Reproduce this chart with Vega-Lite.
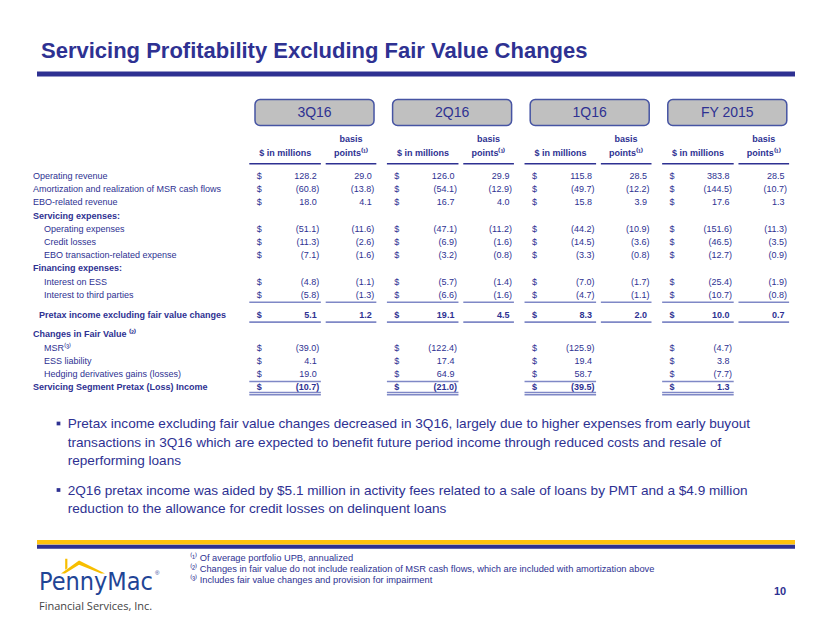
{
  "$schema": "https://vega.github.io/schema/vega-lite/v6.json",
  "width": 830,
  "height": 623,
  "padding": 0,
  "autosize": {"type": "fit", "contains": "padding"},
  "background": "white",
  "config": {"view": {"stroke": null}, "font": "Liberation Sans"},
  "datasets": {
    "periods": [{"period": "3Q16"}, {"period": "2Q16"}, {"period": "1Q16"}, {"period": "FY 2015"}],
    "lines": [
      {"line": "Operating revenue", "kind": "item"},
      {"line": "Amortization and realization of MSR cash flows", "kind": "item"},
      {"line": "EBO-related revenue", "kind": "item"},
      {"line": "Servicing expenses:", "kind": "head"},
      {"line": "Operating expenses", "kind": "sub"},
      {"line": "Credit losses", "kind": "sub"},
      {"line": "EBO transaction-related expense", "kind": "sub"},
      {"line": "Financing expenses:", "kind": "head"},
      {"line": "Interest on ESS", "kind": "sub"},
      {"line": "Interest to third parties", "kind": "sub"},
      {"line": "Pretax income excluding fair value changes", "kind": "total"},
      {"line": "Changes in Fair Value ⁽²⁾", "kind": "head"},
      {"line": "MSR⁽³⁾", "kind": "sub"},
      {"line": "ESS liability", "kind": "sub"},
      {"line": "Hedging derivatives gains (losses)", "kind": "sub"},
      {"line": "Servicing Segment Pretax (Loss) Income", "kind": "grand"}
    ],
    "cells": [
      {"line": "Operating revenue", "period": "3Q16", "usd": 128.2, "bp": 29.0},
      {"line": "Operating revenue", "period": "2Q16", "usd": 126.0, "bp": 29.9},
      {"line": "Operating revenue", "period": "1Q16", "usd": 115.8, "bp": 28.5},
      {"line": "Operating revenue", "period": "FY 2015", "usd": 383.8, "bp": 28.5},
      {"line": "Amortization and realization of MSR cash flows", "period": "3Q16", "usd": -60.8, "bp": -13.8},
      {"line": "Amortization and realization of MSR cash flows", "period": "2Q16", "usd": -54.1, "bp": -12.9},
      {"line": "Amortization and realization of MSR cash flows", "period": "1Q16", "usd": -49.7, "bp": -12.2},
      {"line": "Amortization and realization of MSR cash flows", "period": "FY 2015", "usd": -144.5, "bp": -10.7},
      {"line": "EBO-related revenue", "period": "3Q16", "usd": 18.0, "bp": 4.1},
      {"line": "EBO-related revenue", "period": "2Q16", "usd": 16.7, "bp": 4.0},
      {"line": "EBO-related revenue", "period": "1Q16", "usd": 15.8, "bp": 3.9},
      {"line": "EBO-related revenue", "period": "FY 2015", "usd": 17.6, "bp": 1.3},
      {"line": "Operating expenses", "period": "3Q16", "usd": -51.1, "bp": -11.6},
      {"line": "Operating expenses", "period": "2Q16", "usd": -47.1, "bp": -11.2},
      {"line": "Operating expenses", "period": "1Q16", "usd": -44.2, "bp": -10.9},
      {"line": "Operating expenses", "period": "FY 2015", "usd": -151.6, "bp": -11.3},
      {"line": "Credit losses", "period": "3Q16", "usd": -11.3, "bp": -2.6},
      {"line": "Credit losses", "period": "2Q16", "usd": -6.9, "bp": -1.6},
      {"line": "Credit losses", "period": "1Q16", "usd": -14.5, "bp": -3.6},
      {"line": "Credit losses", "period": "FY 2015", "usd": -46.5, "bp": -3.5},
      {"line": "EBO transaction-related expense", "period": "3Q16", "usd": -7.1, "bp": -1.6},
      {"line": "EBO transaction-related expense", "period": "2Q16", "usd": -3.2, "bp": -0.8},
      {"line": "EBO transaction-related expense", "period": "1Q16", "usd": -3.3, "bp": -0.8},
      {"line": "EBO transaction-related expense", "period": "FY 2015", "usd": -12.7, "bp": -0.9},
      {"line": "Interest on ESS", "period": "3Q16", "usd": -4.8, "bp": -1.1},
      {"line": "Interest on ESS", "period": "2Q16", "usd": -5.7, "bp": -1.4},
      {"line": "Interest on ESS", "period": "1Q16", "usd": -7.0, "bp": -1.7},
      {"line": "Interest on ESS", "period": "FY 2015", "usd": -25.4, "bp": -1.9},
      {"line": "Interest to third parties", "period": "3Q16", "usd": -5.8, "bp": -1.3},
      {"line": "Interest to third parties", "period": "2Q16", "usd": -6.6, "bp": -1.6},
      {"line": "Interest to third parties", "period": "1Q16", "usd": -4.7, "bp": -1.1},
      {"line": "Interest to third parties", "period": "FY 2015", "usd": -10.7, "bp": -0.8},
      {"line": "Pretax income excluding fair value changes", "period": "3Q16", "usd": 5.1, "bp": 1.2},
      {"line": "Pretax income excluding fair value changes", "period": "2Q16", "usd": 19.1, "bp": 4.5},
      {"line": "Pretax income excluding fair value changes", "period": "1Q16", "usd": 8.3, "bp": 2.0},
      {"line": "Pretax income excluding fair value changes", "period": "FY 2015", "usd": 10.0, "bp": 0.7},
      {"line": "MSR⁽³⁾", "period": "3Q16", "usd": -39.0},
      {"line": "MSR⁽³⁾", "period": "2Q16", "usd": -122.4},
      {"line": "MSR⁽³⁾", "period": "1Q16", "usd": -125.9},
      {"line": "MSR⁽³⁾", "period": "FY 2015", "usd": -4.7},
      {"line": "ESS liability", "period": "3Q16", "usd": 4.1},
      {"line": "ESS liability", "period": "2Q16", "usd": 17.4},
      {"line": "ESS liability", "period": "1Q16", "usd": 19.4},
      {"line": "ESS liability", "period": "FY 2015", "usd": 3.8},
      {"line": "Hedging derivatives gains (losses)", "period": "3Q16", "usd": 19.0},
      {"line": "Hedging derivatives gains (losses)", "period": "2Q16", "usd": 64.9},
      {"line": "Hedging derivatives gains (losses)", "period": "1Q16", "usd": 58.7},
      {"line": "Hedging derivatives gains (losses)", "period": "FY 2015", "usd": -7.7},
      {"line": "Servicing Segment Pretax (Loss) Income", "period": "3Q16", "usd": -10.7},
      {"line": "Servicing Segment Pretax (Loss) Income", "period": "2Q16", "usd": -21.0},
      {"line": "Servicing Segment Pretax (Loss) Income", "period": "1Q16", "usd": -39.5},
      {"line": "Servicing Segment Pretax (Loss) Income", "period": "FY 2015", "usd": 1.3}
    ],
    "rules": [
      {"line": "header", "col": "usd", "period": "3Q16"},
      {"line": "header", "col": "usd", "period": "2Q16"},
      {"line": "header", "col": "usd", "period": "1Q16"},
      {"line": "header", "col": "usd", "period": "FY 2015"},
      {"line": "header", "col": "bp", "period": "3Q16"},
      {"line": "header", "col": "bp", "period": "2Q16"},
      {"line": "header", "col": "bp", "period": "1Q16"},
      {"line": "header", "col": "bp", "period": "FY 2015"},
      {"line": "Interest to third parties", "col": "usd", "period": "3Q16"},
      {"line": "Interest to third parties", "col": "usd", "period": "2Q16"},
      {"line": "Interest to third parties", "col": "usd", "period": "1Q16"},
      {"line": "Interest to third parties", "col": "usd", "period": "FY 2015"},
      {"line": "Interest to third parties", "col": "bp", "period": "3Q16"},
      {"line": "Interest to third parties", "col": "bp", "period": "2Q16"},
      {"line": "Interest to third parties", "col": "bp", "period": "1Q16"},
      {"line": "Interest to third parties", "col": "bp", "period": "FY 2015"},
      {"line": "Pretax income excluding fair value changes", "col": "usd", "period": "3Q16"},
      {"line": "Pretax income excluding fair value changes", "col": "usd", "period": "2Q16"},
      {"line": "Pretax income excluding fair value changes", "col": "usd", "period": "1Q16"},
      {"line": "Pretax income excluding fair value changes", "col": "usd", "period": "FY 2015"},
      {"line": "Pretax income excluding fair value changes", "col": "bp", "period": "3Q16"},
      {"line": "Pretax income excluding fair value changes", "col": "bp", "period": "2Q16"},
      {"line": "Pretax income excluding fair value changes", "col": "bp", "period": "1Q16"},
      {"line": "Pretax income excluding fair value changes", "col": "bp", "period": "FY 2015"},
      {"line": "Hedging derivatives gains (losses)", "col": "usd", "period": "3Q16"},
      {"line": "Hedging derivatives gains (losses)", "col": "usd", "period": "2Q16"},
      {"line": "Hedging derivatives gains (losses)", "col": "usd", "period": "1Q16"},
      {"line": "Hedging derivatives gains (losses)", "col": "usd", "period": "FY 2015"},
      {"line": "Servicing Segment Pretax (Loss) Income", "col": "usd", "period": "3Q16"},
      {"line": "Servicing Segment Pretax (Loss) Income", "col": "usd", "period": "2Q16"},
      {"line": "Servicing Segment Pretax (Loss) Income", "col": "usd", "period": "1Q16"},
      {"line": "Servicing Segment Pretax (Loss) Income", "col": "usd", "period": "FY 2015"}
    ]
  },
  "resolve": {"scale": {"x": "independent", "y": "independent"}},
  "layer": [
    {
      "data": {"values": [{"t": "Servicing Profitability Excluding Fair Value Changes"}]},
      "mark": {"type": "text", "align": "left", "baseline": "middle", "fontSize": 22, "fontWeight": "bold", "color": "#2e3192"},
      "encoding": {"x": {"value": 41}, "y": {"value": 51}, "text": {"field": "t"}}
    },
    {
      "data": {"values": [{}]},
      "mark": {"type": "rule", "color": "#2e3192", "strokeWidth": 5},
      "encoding": {"x": {"value": 37}, "x2": {"value": 795}, "y": {"value": 74}}
    },
    {
      "resolve": {"scale": {"x": "independent"}},
      "encoding": {
        "y": {"field": "line", "type": "nominal", "axis": null,
          "scale": {"type": "point", "padding": 0, "range": [110, 387.2],
            "domain": ["pill","g1","g2","g3","g4","g5","g6","header","g7","g8",
              "Operating revenue","g9",
              "Amortization and realization of MSR cash flows","g10",
              "EBO-related revenue","g11",
              "Servicing expenses:","g12",
              "Operating expenses","g13",
              "Credit losses","g14",
              "EBO transaction-related expense","g15",
              "Financing expenses:","g16",
              "Interest on ESS","g17",
              "Interest to third parties","g18","g19",
              "Pretax income excluding fair value changes","g20","g21",
              "Changes in Fair Value ⁽²⁾","g22",
              "MSR⁽³⁾","g23",
              "ESS liability","g24",
              "Hedging derivatives gains (losses)","g25",
              "Servicing Segment Pretax (Loss) Income"]}}
      },
      "layer": [
        {
          "data": {"name": "periods"},
          "mark": {"type": "rect", "height": 26, "yOffset": 2.5, "fill": "#c0c0c0", "stroke": "#4654a3", "strokeWidth": 1.5, "cornerRadius": 5},
          "encoding": {
            "y": {"datum": "pill", "type": "nominal"},
            "x": {"field": "period", "type": "nominal", "axis": null,
              "scale": {"type": "band", "domain": ["3Q16", "2Q16", "1Q16", "FY 2015"], "range": [255, 786.8], "paddingInner": 0.135, "paddingOuter": 0}}
          }
        },
        {
          "data": {"name": "periods"},
          "mark": {"type": "text", "align": "center", "baseline": "middle", "dy": 2.5, "fontSize": 14, "color": "#2e3192"},
          "encoding": {
            "y": {"datum": "pill", "type": "nominal"},
            "x": {"field": "period", "type": "nominal", "axis": null,
              "scale": {"type": "band", "domain": ["3Q16", "2Q16", "1Q16", "FY 2015"], "range": [255, 786.8], "paddingInner": 0.135, "paddingOuter": 0}},
            "text": {"field": "period"}
          }
        },
        {
          "data": {"name": "periods"},
          "mark": {"type": "text", "align": "center", "baseline": "middle", "dx": 36, "dy": -3.5, "fontSize": 9, "fontWeight": "bold", "color": "#2e3192"},
          "encoding": {
            "y": {"datum": "header", "type": "nominal"},
            "x": {"field": "period", "type": "nominal", "axis": null, "bandPosition": 0,
              "scale": {"type": "band", "domain": ["3Q16", "2Q16", "1Q16", "FY 2015"], "range": [249.3, 799.7], "paddingInner": 0, "paddingOuter": 0}},
            "text": {"value": "$ in millions"}
          }
        },
        {
          "data": {"name": "periods"},
          "mark": {"type": "text", "align": "center", "baseline": "middle", "dx": 101.6, "dy": -17.2, "fontSize": 9, "fontWeight": "bold", "color": "#2e3192"},
          "encoding": {
            "y": {"datum": "header", "type": "nominal"},
            "x": {"field": "period", "type": "nominal", "axis": null, "bandPosition": 0,
              "scale": {"type": "band", "domain": ["3Q16", "2Q16", "1Q16", "FY 2015"], "range": [249.3, 799.7], "paddingInner": 0, "paddingOuter": 0}},
            "text": {"value": "basis"}
          }
        },
        {
          "data": {"name": "periods"},
          "mark": {"type": "text", "align": "center", "baseline": "middle", "dx": 101.6, "dy": -3.5, "fontSize": 9, "fontWeight": "bold", "color": "#2e3192"},
          "encoding": {
            "y": {"datum": "header", "type": "nominal"},
            "x": {"field": "period", "type": "nominal", "axis": null, "bandPosition": 0,
              "scale": {"type": "band", "domain": ["3Q16", "2Q16", "1Q16", "FY 2015"], "range": [249.3, 799.7], "paddingInner": 0, "paddingOuter": 0}},
            "text": {"value": "points⁽¹⁾"}
          }
        },
        {
          "data": {"name": "lines"},
          "mark": {"type": "text", "align": "left", "baseline": "middle", "fontSize": 9, "color": "#2e3192",
            "dx": {"expr": "datum.kind === 'sub' ? 11 : (datum.kind === 'total' ? 6 : 0)"},
            "fontWeight": {"expr": "datum.kind === 'head' || datum.kind === 'total' || datum.kind === 'grand' ? 'bold' : 'normal'"}},
          "encoding": {"x": {"value": 33}, "text": {"field": "line"}}
        },
        {
          "data": {"name": "cells"},
          "mark": {"type": "text", "align": "left", "baseline": "middle", "dx": 7.4, "fontSize": 9, "color": "#2e3192",
            "fontWeight": {"expr": "datum.line === 'Pretax income excluding fair value changes' || datum.line === 'Servicing Segment Pretax (Loss) Income' ? 'bold' : 'normal'"}},
          "encoding": {
            "x": {"field": "period", "type": "nominal", "axis": null, "bandPosition": 0,
              "scale": {"type": "band", "domain": ["3Q16", "2Q16", "1Q16", "FY 2015"], "range": [249.3, 799.7], "paddingInner": 0, "paddingOuter": 0}},
            "text": {"value": "$"}
          }
        },
        {
          "data": {"name": "cells"},
          "mark": {"type": "text", "align": "right", "baseline": "middle", "fontSize": 9, "color": "#2e3192",
            "dx": {"expr": "datum.usd < 0 ? 70 : 67.5"},
            "fontWeight": {"expr": "datum.line === 'Pretax income excluding fair value changes' || datum.line === 'Servicing Segment Pretax (Loss) Income' ? 'bold' : 'normal'"}},
          "encoding": {
            "x": {"field": "period", "type": "nominal", "axis": null, "bandPosition": 0,
              "scale": {"type": "band", "domain": ["3Q16", "2Q16", "1Q16", "FY 2015"], "range": [249.3, 799.7], "paddingInner": 0, "paddingOuter": 0}},
            "text": {"field": "usd", "type": "quantitative", "format": "(.1f"}
          }
        },
        {
          "data": {"name": "cells"},
          "transform": [{"filter": "isValid(datum.bp)"}],
          "mark": {"type": "text", "align": "right", "baseline": "middle", "fontSize": 9, "color": "#2e3192",
            "dx": {"expr": "datum.bp < 0 ? 125 : 122.5"},
            "fontWeight": {"expr": "datum.line === 'Pretax income excluding fair value changes' ? 'bold' : 'normal'"}},
          "encoding": {
            "x": {"field": "period", "type": "nominal", "axis": null, "bandPosition": 0,
              "scale": {"type": "band", "domain": ["3Q16", "2Q16", "1Q16", "FY 2015"], "range": [249.3, 799.7], "paddingInner": 0, "paddingOuter": 0}},
            "text": {"field": "bp", "type": "quantitative", "format": "(.1f"}
          }
        },
        {
          "data": {"name": "rules"},
          "transform": [{"filter": "datum.col === 'usd'"}],
          "mark": {"type": "rect", "height": 1.6, "yOffset": 7.5,
            "fill": {"expr": "datum.line === 'header' ? '#2e3192' : '#7f88c6'"}},
          "encoding": {
            "x": {"field": "period", "type": "nominal", "axis": null,
              "scale": {"type": "band", "domain": ["3Q16", "2Q16", "1Q16", "FY 2015"], "range": [249.3, 733.7], "paddingInner": 0.48, "paddingOuter": 0}}
          }
        },
        {
          "data": {"name": "rules"},
          "transform": [{"filter": "datum.col === 'bp'"}],
          "mark": {"type": "rect", "height": 1.6, "yOffset": 7.5,
            "fill": {"expr": "datum.line === 'header' ? '#2e3192' : '#7f88c6'"}},
          "encoding": {
            "x": {"field": "period", "type": "nominal", "axis": null,
              "scale": {"type": "band", "domain": ["3Q16", "2Q16", "1Q16", "FY 2015"], "range": [325.7, 789.1], "paddingInner": 0.632, "paddingOuter": 0}}
          }
        },
        {
          "data": {"name": "rules"},
          "transform": [{"filter": "datum.line === 'Servicing Segment Pretax (Loss) Income'"}],
          "mark": {"type": "rect", "height": 1.4, "yOffset": 5.3, "fill": "#7f88c6"},
          "encoding": {
            "x": {"field": "period", "type": "nominal", "axis": null,
              "scale": {"type": "band", "domain": ["3Q16", "2Q16", "1Q16", "FY 2015"], "range": [249.3, 733.7], "paddingInner": 0.48, "paddingOuter": 0}}
          }
        }
      ]
    },
    {
      "data": {"values": [{}]},
      "mark": {"type": "point", "shape": "square", "filled": true, "size": 14, "color": "#2e3192", "opacity": 1},
      "encoding": {"x": {"value": 58.5}, "y": {"value": 423.5}}
    },
    {
      "data": {"values": [{}]},
      "mark": {"type": "point", "shape": "square", "filled": true, "size": 14, "color": "#2e3192", "opacity": 1},
      "encoding": {"x": {"value": 58.5}, "y": {"value": 490}}
    },
    {
      "data": {"values": [{}]},
      "mark": {"type": "text", "align": "left", "baseline": "alphabetic", "fontSize": 13.6, "lineHeight": 18.3, "color": "#2e3192"},
      "encoding": {"x": {"value": 67.7}, "y": {"value": 428.3},
        "text": {"value": ["Pretax income excluding fair value changes decreased in 3Q16, largely due to higher expenses from early buyout", "transactions in 3Q16 which are expected to benefit future period income through reduced costs and resale of", "reperforming loans"]}}
    },
    {
      "data": {"values": [{}]},
      "mark": {"type": "text", "align": "left", "baseline": "alphabetic", "fontSize": 13.6, "lineHeight": 18.3, "color": "#2e3192"},
      "encoding": {"x": {"value": 67.7}, "y": {"value": 495},
        "text": {"value": ["2Q16 pretax income was aided by $5.1 million in activity fees related to a sale of loans by PMT and a $4.9 million", "reduction to the allowance for credit losses on delinquent loans"]}}
    },
    {
      "data": {"values": [{}]},
      "mark": {"type": "rule", "color": "#ffc20e", "strokeWidth": 4.5},
      "encoding": {"x": {"value": 37}, "x2": {"value": 795}, "y": {"value": 542.2}}
    },
    {
      "data": {"values": [{}]},
      "mark": {"type": "rule", "color": "#2e3192", "strokeWidth": 4},
      "encoding": {"x": {"value": 37}, "x2": {"value": 795}, "y": {"value": 546.8}}
    },
    {
      "data": {"values": [{}]},
      "mark": {"type": "text", "align": "left", "baseline": "middle", "fontSize": 9.3, "lineHeight": 11.3, "color": "#2e3192"},
      "encoding": {"x": {"value": 190}, "y": {"value": 557.7},
        "text": {"value": ["⁽¹⁾ Of average portfolio UPB, annualized", "⁽²⁾ Changes in fair value do not include realization of MSR cash flows, which are included with amortization above", "⁽³⁾ Includes fair value changes and provision for impairment"]}}
    },
    {
      "data": {"values": [{}]},
      "mark": {"type": "text", "align": "center", "baseline": "middle", "fontSize": 11, "fontWeight": "bold", "color": "#2e3192"},
      "encoding": {"x": {"value": 780}, "y": {"value": 591.5}, "text": {"value": "10"}}
    },
    {
      "data": {"values": [{}]},
      "mark": {"type": "point", "filled": true, "color": "#f7be00", "opacity": 1, "size": 1936,
        "shape": "M-1,0.29L-0.18,-0.29L1,0.29L0.82,0.29L-0.18,-0.1L-0.82,0.29Z M-0.81,-0.38L-0.71,-0.38L-0.71,0.06L-0.81,0.13Z"},
      "encoding": {"x": {"value": 83}, "y": {"value": 567}}
    },
    {
      "data": {"values": [{}]},
      "mark": {"type": "text", "align": "left", "baseline": "alphabetic", "font": "DejaVu Sans Condensed", "fontSize": 25, "color": "#1f4596"},
      "encoding": {"x": {"value": 39}, "y": {"value": 590}, "text": {"value": "PennyMac"}}
    },
    {
      "data": {"values": [{}]},
      "mark": {"type": "text", "align": "left", "baseline": "middle", "fontSize": 6, "color": "#1f4596"},
      "encoding": {"x": {"value": 155}, "y": {"value": 573}, "text": {"value": "®"}}
    },
    {
      "data": {"values": [{}]},
      "mark": {"type": "text", "align": "left", "baseline": "alphabetic", "font": "Open Sans", "fontSize": 11, "color": "#444444"},
      "encoding": {"x": {"value": 39}, "y": {"value": 609.5}, "text": {"value": "Financial Services, Inc."}}
    }
  ]
}
